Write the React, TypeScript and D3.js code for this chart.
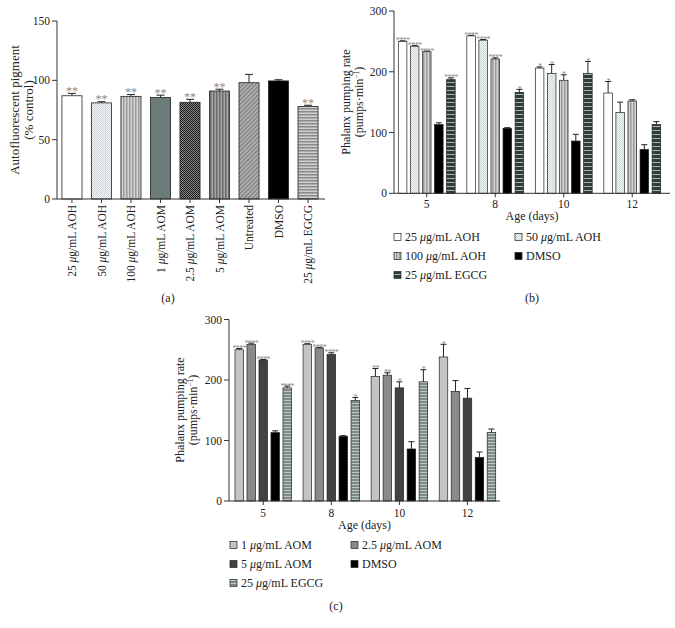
import React from "react";
import * as d3 from "d3";

// ---------- Panel (a) data ----------
const catsA = ["25 μg/mL AOH", "50 μg/mL AOH", "100 μg/mL AOH", "1 μg/mL AOM", "2.5 μg/mL AOM", "5 μg/mL AOM", "Untreated", "DMSO", "25 μg/mL EGCG"];
const valsA = [87, 81, 86.5, 85.5, 81.5, 91, 98, 99.5, 78];
const errA = [2, 1, 1.5, 2, 2.5, 1.5, 7, 1, 1];
const sigA = ["**", "**", "**", "**", "**", "**", "", "", "**"];
const fillA = ["#ffffff", "url(#pDots)", "url(#pVLight)", "#6b7b79", "url(#pChecker)", "url(#pVDark)", "url(#pDiag)", "#000000", "url(#pHGrey)"];
const ticksA = [0, 50, 100, 150];

// ---------- Panels (b) and (c) shared ----------
const ages = ["5", "8", "10", "12"];
const ticksBC = [0, 100, 200, 300];

// ---------- Panel (b) data ----------
const seriesB = ["25 μg/mL AOH", "50 μg/mL AOH", "100 μg/mL AOH", "DMSO", "25 μg/mL EGCG"];
const valsB = [
  [250, 259, 206, 165],
  [242, 252, 197, 133],
  [233, 221, 186, 152],
  [113, 107, 86, 72],
  [187, 166, 197, 113],
];
const errB = [
  [1, 1, 2, 19],
  [1, 1, 15, 17],
  [1, 2, 9, 2],
  [3, 1, 11, 8],
  [3, 5, 20, 5],
];
const sigB = [
  ["****", "****", "*", "*"],
  ["****", "****", "*", ""],
  ["****", "****", "*", ""],
  ["", "", "", ""],
  ["****", "*", "*", ""],
];
const fillB = ["#ffffff", "url(#pDots)", "url(#pVLight)", "#000000", "url(#pHDark)"];

// ---------- Panel (c) data ----------
const seriesC = ["1 μg/mL AOM", "2.5 μg/mL AOM", "5 μg/mL AOM", "DMSO", "25 μg/mL EGCG"];
const valsC = [
  [250, 259, 206, 238],
  [259, 253, 208, 181],
  [233, 242, 187, 170],
  [113, 107, 86, 72],
  [187, 166, 197, 113],
];
const errC = [
  [2, 1, 13, 21],
  [2, 1, 4, 18],
  [1, 3, 10, 16],
  [3, 1, 12, 9],
  [3, 5, 20, 6],
];
const sigC = [
  ["****", "****", "**", "*"],
  ["****", "****", "**", ""],
  ["****", "****", "*", ""],
  ["", "", "", ""],
  ["****", "*", "*", ""],
];
const fillC = ["#c4c4c4", "#8a8a8a", "#424242", "#000000", "url(#pHMid)"];

const FONT = "'Liberation Serif', 'Times New Roman', serif";
const AX = "#333";
const SIG = "#8a8a8a";

function lbl(s: string) {
  const parts = s.split("μ");
  if (parts.length === 1) return s;
  return (
    <>
      {parts[0]}
      <tspan fontStyle="italic">μ</tspan>
      {parts[1]}
    </>
  );
}

function Patterns() {
  return (
    <defs>
      <pattern id="pDots" width="2" height="2" patternUnits="userSpaceOnUse">
        <rect width="2" height="2" fill="#f3f6f6" />
        <rect width="1" height="1" fill="#cdd6d6" />
        <rect x="1" y="1" width="1" height="1" fill="#cdd6d6" />
      </pattern>
      <pattern id="pVLight" width="3" height="3" patternUnits="userSpaceOnUse">
        <rect width="3" height="3" fill="#d4d4d4" />
        <rect width="1.5" height="3" fill="#9a9a9a" />
      </pattern>
      <pattern id="pVDark" width="3" height="3" patternUnits="userSpaceOnUse">
        <rect width="3" height="3" fill="#a4a4a4" />
        <rect width="1.5" height="3" fill="#6c6c6c" />
      </pattern>
      <pattern id="pChecker" width="2" height="2" patternUnits="userSpaceOnUse">
        <rect width="2" height="2" fill="#8c8c8c" />
        <rect width="1" height="1" fill="#151515" />
        <rect x="1" y="1" width="1" height="1" fill="#151515" />
      </pattern>
      <pattern id="pDiag" width="3" height="3" patternUnits="userSpaceOnUse" patternTransform="rotate(45)">
        <rect width="3" height="3" fill="#b4b4b4" />
        <rect width="1.2" height="3" fill="#7a7a7a" />
      </pattern>
      <pattern id="pHGrey" width="3" height="3" patternUnits="userSpaceOnUse">
        <rect width="3" height="3" fill="#cfcfcf" />
        <rect width="3" height="1.5" fill="#8a8a8a" />
      </pattern>
      <pattern id="pHDark" width="4" height="4" patternUnits="userSpaceOnUse">
        <rect width="4" height="4" fill="#2f3c3c" />
        <rect width="4" height="1" y="2" fill="#a9b7b7" />
      </pattern>
      <pattern id="pHMid" width="3" height="3" patternUnits="userSpaceOnUse">
        <rect width="3" height="3" fill="#7c8a8a" />
        <rect width="3" height="1" y="1" fill="#bcc6c6" />
      </pattern>
    </defs>
  );
}

function PanelA() {
  const y = d3.scaleLinear().domain([0, 150]).range([199, 21]);
  const x = d3.scaleBand().domain(catsA).range([57.5, 322.5]).paddingInner(0.32).paddingOuter(0.15);
  const bw = x.bandwidth();
  return (
    <g>
      {catsA.map((c, i) => {
        const x0 = x(c)!;
        const cx = x0 + bw / 2;
        const top = y(valsA[i]);
        const et = y(valsA[i] + errA[i]);
        return (
          <g key={c}>
            <line x1={cx} x2={cx} y1={top} y2={et} stroke="#222" strokeWidth={1} />
            <line x1={cx - 4} x2={cx + 4} y1={et} y2={et} stroke="#222" strokeWidth={1} />
            <rect x={x0} y={top} width={bw} height={y(0) - top} fill={fillA[i]} stroke="#222" strokeWidth={0.8} />
            {sigA[i] && (
              <text x={cx} y={et + 1.5} textAnchor="middle" fontSize={12} fill={SIG} fontFamily={FONT}>{sigA[i]}</text>
            )}
            <line x1={cx} x2={cx} y1={y(0)} y2={y(0) + 4} stroke={AX} />
            <text transform={`translate(${cx},205) rotate(-90)`} textAnchor="end" dy="0.35em" fontSize={11.5} fontFamily={FONT} fill="#222">{lbl(c)}</text>
          </g>
        );
      })}
      <line x1={57} x2={325} y1={y(0)} y2={y(0)} stroke={AX} />
      <line x1={57} x2={57} y1={y(0)} y2={y(150)} stroke={AX} />
      {ticksA.map((t) => (
        <g key={t}>
          <line x1={52} x2={57} y1={y(t)} y2={y(t)} stroke={AX} />
          <text x={50} y={y(t)} dy="0.35em" textAnchor="end" fontSize={11.5} fontFamily={FONT} fill="#222">{t}</text>
        </g>
      ))}
      <text transform="translate(14,110) rotate(-90)" textAnchor="middle" fontSize={13} fontFamily={FONT} fill="#222" dy="0.35em">Autofluorescent pigment</text>
      <text transform="translate(28,110) rotate(-90)" textAnchor="middle" fontSize={13} fontFamily={FONT} fill="#222" dy="0.35em">(% control)</text>
      <text x={168} y={298} textAnchor="middle" fontSize={12} fontFamily={FONT} fill="#222" dy="0.35em">(a)</text>
    </g>
  );
}

type GP = {
  series: string[];
  vals: number[][];
  errs: number[][];
  sigs: string[][];
  fills: string[];
  x0: number; x1: number; axisEnd: number; y0: number; y1: number;
  po: number;
  labX: number; labCY: number;
  tickLabY: number; ageY: number;
  leg: { col1: number; col2: number; rows: number[] };
  caption: string; capX: number; capY: number;
};

function GroupPanel(p: GP) {
  const y = d3.scaleLinear().domain([0, 300]).range([p.y0, p.y1]);
  const x = d3.scaleBand().domain(ages).range([p.x0, p.x1]).paddingInner(0.17).paddingOuter(p.po);
  const xi = d3.scaleBand().domain(p.series).range([0, x.bandwidth()]).paddingInner(0.29).paddingOuter(0);
  const bw = xi.bandwidth();
  const legPos = [
    [p.leg.col1, p.leg.rows[0]],
    [p.leg.col2, p.leg.rows[0]],
    [p.leg.col1, p.leg.rows[1]],
    [p.leg.col2, p.leg.rows[1]],
    [p.leg.col1, p.leg.rows[2]],
  ];
  return (
    <g>
      {ages.map((a, gi) => (
        <g key={a}>
          {p.series.map((s, si) => {
            const bx = x(a)! + xi(s)!;
            const cx = bx + bw / 2;
            const v = p.vals[si][gi];
            const top = y(v);
            const et = y(v + p.errs[si][gi]);
            return (
              <g key={s}>
                <line x1={cx} x2={cx} y1={top} y2={et} stroke="#222" strokeWidth={1} />
                <line x1={cx - 3} x2={cx + 3} y1={et} y2={et} stroke="#222" strokeWidth={1} />
                <rect x={bx} y={top} width={bw} height={y(0) - top} fill={p.fills[si]} stroke="#222" strokeWidth={0.7} />
                {p.sigs[si][gi] && (
                  <text x={cx} y={et + 2.5} textAnchor="middle" fontSize={8} fill={SIG} fontFamily={FONT} letterSpacing={-0.6}>{p.sigs[si][gi]}</text>
                )}
              </g>
            );
          })}
          <line x1={x(a)! + x.bandwidth() / 2} x2={x(a)! + x.bandwidth() / 2} y1={y(0)} y2={y(0) + 4} stroke={AX} />
          <text x={x(a)! + x.bandwidth() / 2} y={p.tickLabY} textAnchor="middle" fontSize={11.5} fontFamily={FONT} fill="#222" dy="0.35em">{a}</text>
        </g>
      ))}
      <line x1={p.x0} x2={p.axisEnd} y1={y(0)} y2={y(0)} stroke={AX} />
      <line x1={p.x0} x2={p.x0} y1={y(0)} y2={y(300)} stroke={AX} />
      {ticksBC.map((t) => (
        <g key={t}>
          <line x1={p.x0 - 5} x2={p.x0} y1={y(t)} y2={y(t)} stroke={AX} />
          <text x={p.x0 - 7} y={y(t)} dy="0.35em" textAnchor="end" fontSize={11.5} fontFamily={FONT} fill="#222">{t}</text>
        </g>
      ))}
      <text transform={`translate(${p.labX},${p.labCY}) rotate(-90)`} textAnchor="middle" fontSize={12} fontFamily={FONT} fill="#222" dy="0.35em">Phalanx pumping rate</text>
      <text transform={`translate(${p.labX + 13},${p.labCY}) rotate(-90)`} textAnchor="middle" fontSize={12} fontFamily={FONT} fill="#222" dy="0.35em">
        (pumps·min<tspan fontSize={7.5} dy="-4">−1</tspan><tspan dy="4">)</tspan>
      </text>
      <text x={(p.x0 + p.axisEnd) / 2} y={p.ageY} textAnchor="middle" fontSize={12} fontFamily={FONT} fill="#222" dy="0.35em">Age (days)</text>
      {p.series.map((s, si) => {
        const [lx, ly] = legPos[si];
        return (
          <g key={"leg" + s}>
            <rect x={lx} y={ly - 3.5} width={7} height={7} fill={p.fills[si]} stroke="#222" strokeWidth={0.7} />
            <text x={lx + 11} y={ly} dy="0.35em" fontSize={12} fontFamily={FONT} fill="#222">{lbl(s)}</text>
          </g>
        );
      })}
      <text x={p.capX} y={p.capY} textAnchor="middle" fontSize={12} fontFamily={FONT} fill="#222" dy="0.35em">{p.caption}</text>
    </g>
  );
}

export default function App() {
  return (
    <div style={{ position: "absolute", left: 0, top: 0 }}>
      <svg width={675} height={628} style={{ display: "block", background: "#fff" }}>
        <Patterns />
        <PanelA />
        <GroupPanel
          series={seriesB} vals={valsB} errs={errB} sigs={sigB} fills={fillB}
          x0={394} x1={665} axisEnd={670} y0={193.3} y1={11} po={0.063}
          labX={346} labCY={102} tickLabY={204} ageY={216}
          leg={{ col1: 394, col2: 515, rows: [237, 256, 275] }}
          caption="(b)" capX={532} capY={298}
        />
        <GroupPanel
          series={seriesC} vals={valsC} errs={errC} sigs={sigC} fills={fillC}
          x0={229} x1={501.7} axisEnd={500} y0={501} y1={319.5} po={0.088}
          labX={180} labCY={410} tickLabY={513} ageY={525}
          leg={{ col1: 230, col2: 351, rows: [545, 564, 583] }}
          caption="(c)" capX={336} capY={606}
        />
      </svg>
    </div>
  );
}
